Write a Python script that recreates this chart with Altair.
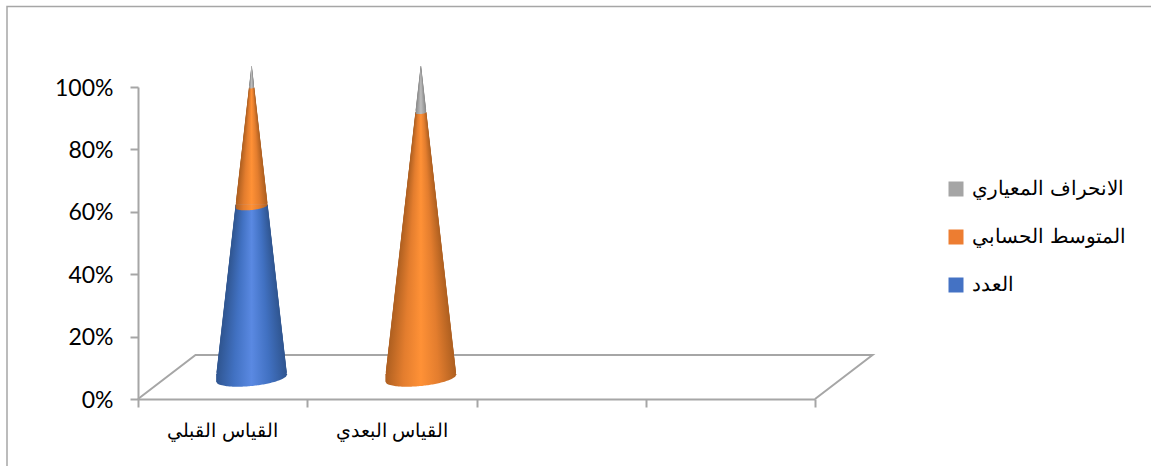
import math
import altair as alt
import pandas as pd

# Chart content
categories = ["القياس القبلي", "القياس البعدي"]
series = ["العدد", "المتوسط الحسابي", "الانحراف المعياري"]
count_share = [0.55, 0.0]
mean_share = [0.38, 0.85]
std_share = [0.07, 0.15]
y_ticks = [0, 0.2, 0.4, 0.6, 0.8, 1.0]
slot_ticks = [0, 1, 2, 3, 4]

base_colors = ["#4472C4", "#ED7D31", "#A5A5A5"]
shades = [
    ["#2F5590", "#4171C2", "#5A89E2", "#4171C2", "#2F5590"],
    ["#AE5F20", "#E37D2E", "#FF9136", "#E37D2E", "#AE5F20"],
    ["#8A8A8A", "#A5A5A5", "#BEBEBE", "#A5A5A5", "#8A8A8A"],
]
GREY = "#A6A6A6"

# Plot geometry: one slot is a category width, the y scale runs 0..1
PLOT_W, PLOT_H = 677, 312
SLOT_PX = PLOT_W / 4
DEPTH_X, DEPTH_Y = 57.5 / SLOT_PX, 44 / PLOT_H
FLOOR_X = 29 / SLOT_PX
FLOOR_Y = 21 / PLOT_H
RADIUS = 35.5 / SLOT_PX
TILT = 3.5 / PLOT_H
DROP = 8 / PLOT_H
ROW = 1 / PLOT_H

x_scale = alt.Scale(domain=[0, 4], nice=False, zero=False)
y_scale = alt.Scale(domain=[0, 1], nice=False, zero=False)
x_axis = alt.Axis(
    values=slot_ticks, labels=False, title=None, grid=False,
    domainColor=GREY, domainWidth=2, tickColor=GREY, tickWidth=2, tickSize=8)
y_axis = alt.Axis(
    values=y_ticks, format=".0%", title=None, grid=False,
    domainColor=GREY, domainWidth=2, tickColor=GREY, tickWidth=2, tickSize=8,
    labelColor="#000000", labelFont="Lato", labelFontSize=23, labelPadding=17, labelOffset=1)


def enc_x(field):
    return alt.X(field, type="quantitative", scale=x_scale, axis=x_axis)


def enc_y(field):
    return alt.Y(field, type="quantitative", scale=y_scale, axis=y_axis)


def px_x(px):
    return (px - 138) / SLOT_PX


def px_y(px):
    return (399 - px) / PLOT_H


def radius_at(level):
    return RADIUS * (1 - level)


def slices_for(center, lo, hi):
    """Horizontal rows that build one cone segment, each reaching over the next rows."""
    rows = []
    start = lo + TILT * (1 - lo) if lo > 0 else TILT
    end = hi + TILT * (1 - hi) if hi < 1 else 1
    n = max(1, int(math.ceil((end - start) / ROW)))
    for i in range(n):
        a = start + (end - start) * i / n
        b = start + (end - start) * (i + 1) / n
        r = radius_at((a + b) / 2)
        rows.append({
            "x0": center - r,
            "x1": center + r,
            "y0": FLOOR_Y + a,
            "y1": FLOOR_Y + min(b + 2.2 * ROW, end),
        })
    return rows


def cap_for(center, level):
    """Front rim of a segment: a tilted half ellipse below its lower level."""
    r = radius_at(level)
    scale = 1 - level
    mid = FLOOR_Y + level
    rows = []
    for i in range(61):
        t = -1 + 2 * i / 60
        lower = mid + t * TILT * scale - DROP * scale * math.sqrt(max(0, 1 - t * t))
        rows.append({
            "x": center + t * r,
            "y": lower,
            "y2": mid + TILT * scale + 0.4 * ROW,
        })
    return rows


def gradient(colors):
    step = 1 / (len(colors) - 1)
    stops = [alt.GradientStop(color=c, offset=round(i * step, 3)) for i, c in enumerate(colors)]
    return alt.LinearGradient(gradient="linear", stops=stops, x1=0, x2=1, y1=0, y2=0)


layers = []

# Sloped floor and the outer chart frame
floor = pd.DataFrame({
    "x": [0, DEPTH_X, 4 + DEPTH_X, 4],
    "y": [0, DEPTH_Y, DEPTH_Y, 0],
    "o": [0, 1, 2, 3],
})
layers.append(
    alt.Chart(floor).mark_line(color=GREY, strokeWidth=2).encode(
        x=enc_x("x"), y=enc_y("y"), order="o:Q",
    )
)
frame = pd.DataFrame({
    "x": [px_x(7), px_x(7), px_x(1151)],
    "y": [px_y(466), px_y(6.5), px_y(6.5)],
    "o": [0, 1, 2],
})
layers.append(
    alt.Chart(frame).mark_line(color=GREY, strokeWidth=1.5).encode(
        x=enc_x("x"), y=enc_y("y"), order="o:Q",
    )
)

# Hidden anchor points carry the colour legend
centers = [i + 0.5 + FLOOR_X for i in range(len(categories))]
legend_df = pd.DataFrame({"series": series, "x": [centers[0]] * 3, "y": [0.4] * 3})
layers.append(
    alt.Chart(legend_df).mark_square(size=1, opacity=1).encode(
        x=enc_x("x"), y=enc_y("y"),
        color=alt.Color("series:N", scale=alt.Scale(domain=series[::-1], range=base_colors[::-1]),
                        legend=alt.Legend(
                            orient="none", legendX=808, legendY=92, title=None,
                            symbolType="square", symbolSize=225, symbolStrokeWidth=0,
                            symbolOpacity=1,
                            labelFont="Liberation Sans", labelFontSize=20, labelColor="#000000",
                            labelOffset=6, rowPadding=28, labelLimit=300,
                        )),
    )
)

# Stacked cones, one segment per series
shares = [count_share, mean_share, std_share]
for s_idx, name in enumerate(series):
    fill = gradient(shades[s_idx])
    for c_idx, center in enumerate(centers):
        lo = sum(shares[k][c_idx] for k in range(s_idx))
        hi = lo + shares[s_idx][c_idx]
        if hi - lo <= 0:
            continue
        body = pd.DataFrame(slices_for(center, lo, hi))
        rim = pd.DataFrame(cap_for(center, lo))
        layers.append(
            alt.Chart(body).mark_rect(color=fill, opacity=1).encode(
                x=enc_x("x0"), x2="x1:Q", y=enc_y("y0"), y2="y1:Q",
            )
        )
        layers.append(
            alt.Chart(rim).mark_area(color=fill, opacity=1).encode(
                x=enc_x("x"), y=enc_y("y"), y2="y2:Q",
            )
        )

# Category names under the slots
label_df = pd.DataFrame({
    "name": categories,
    "x": [i + 0.5 for i in range(len(categories))],
    "y": [px_y(431)] * len(categories),
})
layers.append(
    alt.Chart(label_df).mark_text(
        font="Liberation Sans", fontSize=19, color="#000000", baseline="middle", align="center"
    ).encode(
        x=enc_x("x"), y=enc_y("y"), text="name:N",
    )
)

chart = alt.layer(*layers).properties(
    width=PLOT_W,
    height=PLOT_H,
    autosize=alt.AutoSizeParams(type="none"),
    padding={"left": 138, "top": 87, "right": 336, "bottom": 67},
    background="#FFFFFF",
).configure_view(stroke=None)

chart.save("out.html", embed_options={"renderer": "svg", "actions": False})
